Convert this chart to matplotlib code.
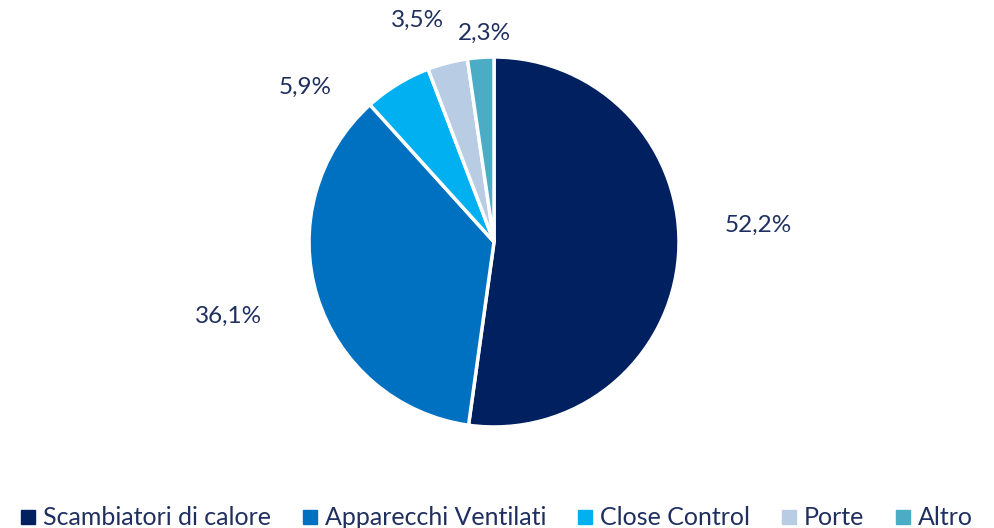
import matplotlib.pyplot as plt
import numpy as np
from matplotlib.lines import Line2D

categories = ['Scambiatori di calore', 'Apparecchi Ventilati', 'Close Control', 'Porte', 'Altro']
values = [52.2, 36.1, 5.9, 3.5, 2.3]
labels = ['52,2%', '36,1%', '5,9%', '3,5%', '2,3%']
colors = ['#002060', '#0070C0', '#00B0F0', '#B8CCE4', '#4BACC6']
text_color = '#1F2F5F'

# label placement (angle in degrees, distance in radii), like Excel outside labels
label_pos = [(3.7, 1.43), (-164.4, 1.49), (140.8, 1.32), (109.0, 1.27), (92.7, 1.13)]

plt.rcParams['font.family'] = ['Lato', 'DejaVu Sans']

fig = plt.figure(figsize=(9.94, 5.28), dpi=100)
ax = fig.add_axes([0.3109, 0.1913, 0.3722, 0.7008])

wedges, _ = ax.pie(values, colors=colors, startangle=90, counterclock=False,
                   wedgeprops=dict(edgecolor='white', linewidth=2.5))
ax.set_xlim(-1, 1)
ax.set_ylim(-1, 1)
ax.set_aspect('equal')

for lab, (ang, dist) in zip(labels, label_pos):
    a = np.deg2rad(ang)
    ax.text(dist * np.cos(a), dist * np.sin(a), lab, ha='center', va='center',
            fontsize=17.5, color=text_color, clip_on=False)

handles = [Line2D([0], [0], marker='s', linestyle='', markersize=10,
                  markerfacecolor=c, markeredgecolor=c) for c in colors]
fig.legend(handles, categories, loc='lower center', bbox_to_anchor=(0.5, -0.045),
           ncol=5, frameon=False, fontsize=18, handlelength=0.6, handletextpad=0.3,
           columnspacing=1.25, labelcolor=text_color)

fig.savefig('out.png', dpi=100)
